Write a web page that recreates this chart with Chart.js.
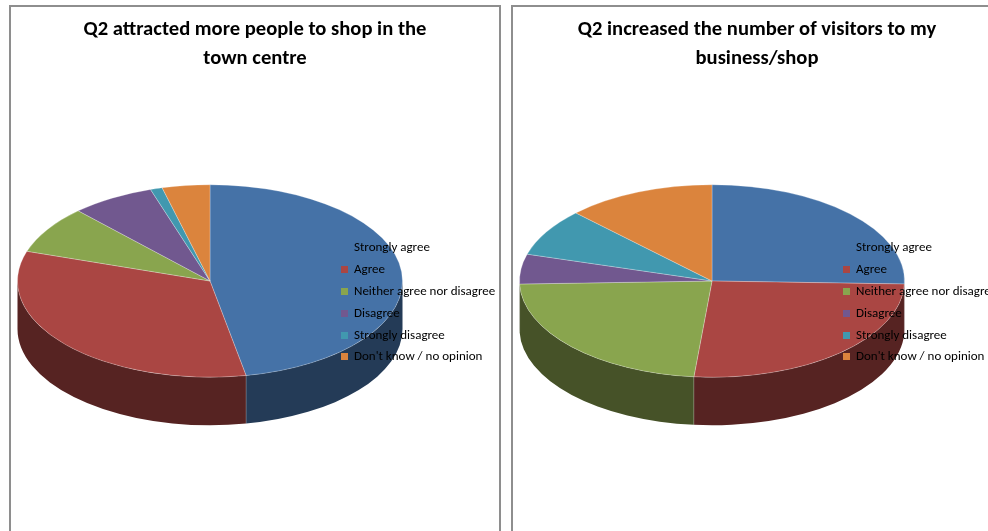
<!DOCTYPE html>
<html>
<head>
<meta charset="utf-8">
<script src="https://cdn.jsdelivr.net/npm/chart.js@4.4.1/dist/chart.umd.min.js"></script>
<style>
  body { margin: 0; background: #fff; width: 988px; height: 531px; overflow: hidden; position: relative; }
  .panel { position: absolute; top: 5px; width: 488px; height: 560px; border: 2px solid #8e8e8e; background: #fff; }
  .panel canvas { position: absolute; left: 0; top: 0; }
  .title { position: absolute; left: 0; right: 0; top: 7px; text-align: center;
           font: bold 20.6px 'Carlito', 'Calibri', 'Lato', sans-serif; line-height: 29px; color: #000; }
  .legend { position: absolute; left: 330px; top: 231px; font: 13px 'Carlito', 'Calibri', 'Lato', sans-serif; color: #000; }
  .legend div { height: 21.9px; line-height: 18px; white-space: nowrap; }
  .legend span { display: inline-block; width: 7px; height: 7px; margin-right: 6px; vertical-align: 0px; }
</style>
</head>
<body>
<div class="panel" id="p1" style="left:9px">
  <canvas id="c1" width="488" height="531"></canvas>
  <div class="title">Q2 attracted more people to shop in the<br>town centre</div>
  <div class="legend" id="l1"></div>
</div>
<div class="panel" id="p2" style="left:511px">
  <canvas id="c2" width="488" height="531"></canvas>
  <div class="title">Q2 increased the number of visitors to my<br>business/shop</div>
  <div class="legend" id="l2"></div>
</div>
<script>
// answer categories
const labels = ['Strongly agree', 'Agree', 'Neither agree nor disagree', 'Disagree', 'Strongly disagree', "Don't know / no opinion"];
// share of responses (%)
const townCentre = [47, 33, 8, 7, 1, 4];
const moreVisitors = [25.5, 26, 23, 5, 8, 12.5];

const topColors = ['#4572A7', '#AA4643', '#89A54E', '#71588F', '#4198AF', '#DB843D'];
const sideColors = ['#243B57', '#562322', '#465228', '#3A2D4A', '#214E5A', '#70431F'];

// squash the pie into an ellipse and draw the front wall under it
const pie3d = {
    id: 'pie3d',
    beforeDatasetsDraw(chart, args, opts) {
        const ctx = chart.ctx;
        const arcs = chart.getDatasetMeta(0).data;
        if (!arcs.length) return;
        const cx = arcs[0].x, cy = arcs[0].y;
        const off = opts.depth / opts.tilt;
        ctx.save();
        ctx.translate(cx, cy);
        ctx.scale(1, opts.tilt);
        ctx.translate(-cx, -cy);
        arcs.forEach((a, i) => {
            // front half of the rim only: canvas angles 0..PI (and 2PI..3PI)
            [[0, Math.PI], [2 * Math.PI, 3 * Math.PI]].forEach(([lo, hi]) => {
                const s = Math.max(a.startAngle, lo), e = Math.min(a.endAngle, hi);
                if (e <= s) return;
                const r = a.outerRadius;
                ctx.beginPath();
                ctx.arc(a.x, a.y, r, s, e);
                ctx.lineTo(a.x + r * Math.cos(e), a.y + off + r * Math.sin(e));
                ctx.arc(a.x, a.y + off, r, e, s, true);
                ctx.closePath();
                ctx.fillStyle = sideColors[i];
                ctx.fill();
            });
        });
        // faint edge where two walls meet
        arcs.forEach(a => {
            let t = a.endAngle % (2 * Math.PI);
            if (t > 0.01 && t < Math.PI - 0.01) {
                const r = a.outerRadius;
                ctx.beginPath();
                ctx.moveTo(a.x + r * Math.cos(t), a.y + r * Math.sin(t));
                ctx.lineTo(a.x + r * Math.cos(t), a.y + off + r * Math.sin(t));
                ctx.strokeStyle = 'rgba(255,255,255,0.3)';
                ctx.lineWidth = 1;
                ctx.stroke();
            }
        });
    },
    afterDatasetsDraw(chart) {
        chart.ctx.restore();
    }
};

function makePie(canvasId, values) {
    const ctx = document.getElementById(canvasId).getContext('2d');
    new Chart(ctx, {
        type: 'pie',
        data: {
            labels: labels,
            datasets: [{
                data: values,
                backgroundColor: topColors,
                borderColor: 'rgba(255,255,255,0.35)',
                borderWidth: 1,
                hoverOffset: 0
            }]
        },
        options: {
            responsive: false,
            animation: false,
            devicePixelRatio: 1,
            layout: { padding: { left: 6, right: 96, top: 81, bottom: 64 } },
            plugins: {
                legend: { display: false },
                tooltip: { enabled: false },
                pie3d: { tilt: 0.5, depth: 48 }
            }
        },
        plugins: [pie3d]
    });
}

function makeLegend(id) {
    const box = document.getElementById(id);
    labels.forEach((l, i) => {
        const row = document.createElement('div');
        const sw = document.createElement('span');
        sw.style.background = topColors[i];
        row.appendChild(sw);
        row.appendChild(document.createTextNode(l));
        box.appendChild(row);
    });
}

makePie('c1', townCentre);
makePie('c2', moreVisitors);
makeLegend('l1');
makeLegend('l2');
</script>
</body>
</html>
